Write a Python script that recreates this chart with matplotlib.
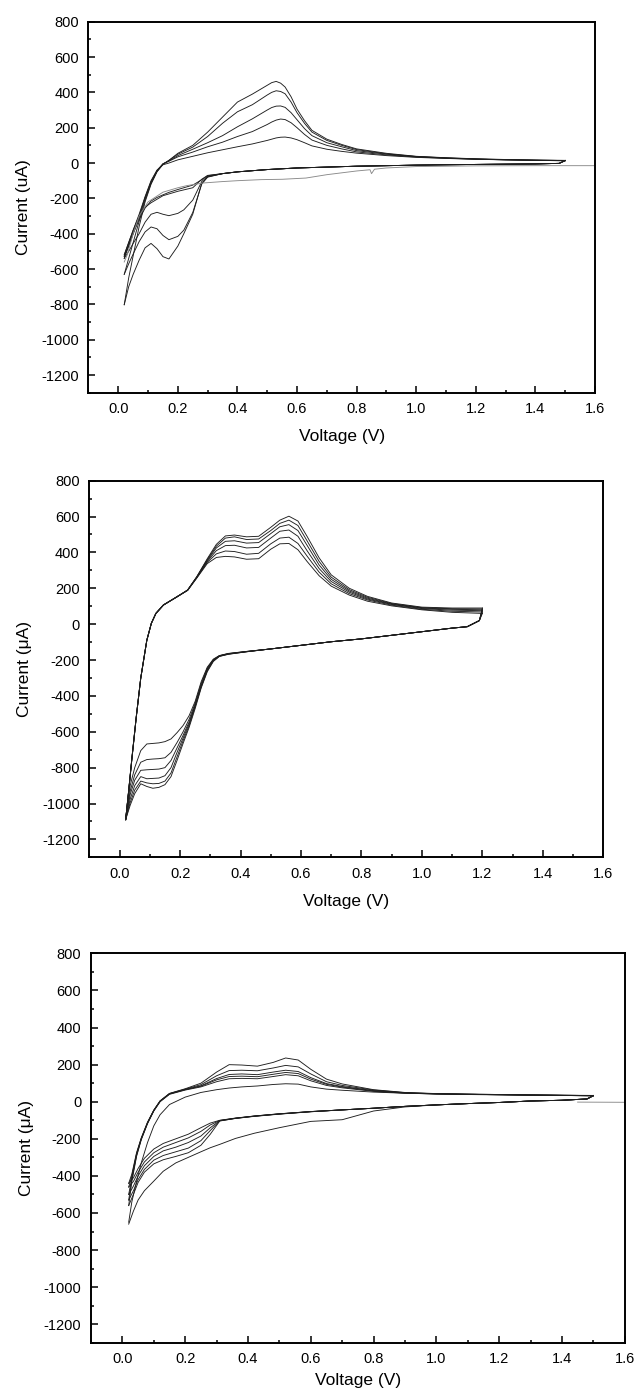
import matplotlib
matplotlib.use('Agg')
import matplotlib.pyplot as plt
from matplotlib.ticker import MultipleLocator, FormatStrFormatter

plt.rcParams['font.family'] = ['Liberation Sans', 'DejaVu Sans']
plt.rcParams['axes.unicode_minus'] = False

# ---------------- Panel 1 (sweep 0.02 - 1.5 V) ----------------
v_up_1 = [0.02, 0.035, 0.05, 0.07, 0.09, 0.11, 0.13, 0.15, 0.17, 0.20, 0.25, 0.30, 0.35, 0.40, 0.45,
          0.50, 0.515, 0.53, 0.545, 0.56, 0.58, 0.60, 0.625, 0.65, 0.70, 0.75, 0.80, 0.90, 1.00,
          1.10, 1.20, 1.30, 1.40, 1.50]
i_up_1 = [
    [-802, -650, -525, -360, -220, -120, -50, -8, 15, 55, 100, 175, 260, 345, 390,
     440, 455, 462, 452, 430, 375, 305, 240, 185, 135, 105, 80, 55, 38, 30, 24, 20, 17, 15],
    [-630, -540, -450, -330, -210, -115, -48, -6, 15, 50, 90, 150, 225, 290, 330,
     385, 400, 409, 405, 392, 345, 285, 225, 175, 128, 100, 76, 52, 37, 29, 23, 19, 16, 14],
    [-540, -470, -400, -310, -200, -110, -45, -5, 12, 42, 78, 115, 155, 205, 250,
     300, 314, 322, 323, 315, 285, 245, 195, 155, 115, 92, 70, 50, 36, 28, 22, 18, 16, 14],
    [-530, -460, -390, -300, -195, -105, -42, -4, 10, 35, 62, 92, 118, 150, 178,
     218, 232, 243, 249, 246, 228, 200, 162, 130, 100, 80, 63, 46, 34, 27, 22, 18, 15, 13],
    [-520, -450, -380, -290, -190, -100, -40, -10, 0, 18, 38, 58, 75, 92, 108,
     128, 135, 142, 146, 147, 142, 132, 115, 97, 78, 66, 56, 42, 32, 26, 21, 18, 15, 13],
]
v_down_1 = [1.50, 1.48, 1.40, 1.20, 1.00, 0.80, 0.60, 0.50, 0.40, 0.35, 0.30, 0.28,
            0.25, 0.22, 0.20, 0.17, 0.15, 0.13, 0.11, 0.09, 0.07, 0.05, 0.035, 0.02]
i_down_1 = [
    [15, -2, -5, -8, -12, -18, -28, -37, -50, -60, -80, -115,
     -290, -400, -470, -543, -530, -485, -455, -480, -550, -630, -700, -802],
    [14, -2, -5, -8, -12, -18, -28, -37, -50, -60, -78, -120,
     -280, -380, -415, -434, -410, -372, -362, -390, -445, -515, -570, -630],
    [14, -2, -5, -8, -12, -18, -28, -37, -50, -60, -76, -105,
     -210, -265, -285, -298, -290, -279, -290, -335, -400, -455, -500, -540],
    [13, -2, -5, -8, -12, -18, -28, -37, -50, -60, -72, -95,
     -125, -140, -150, -166, -180, -195, -215, -255, -320, -400, -470, -530],
    [13, -2, -5, -8, -12, -18, -28, -37, -50, -60, -70, -92,
     -140, -152, -160, -175, -185, -205, -225, -250, -300, -380, -450, -520],
]
# first discharge from open circuit (lighter trace)
v_first_1 = [1.60, 1.40, 1.20, 1.00, 0.90, 0.86, 0.85, 0.845, 0.80, 0.70, 0.63, 0.55,
             0.48, 0.40, 0.35, 0.285, 0.23, 0.20, 0.15, 0.10, 0.07, 0.05, 0.03, 0.02]
i_first_1 = [-15, -15, -16, -20, -28, -35, -60, -38, -45, -66, -85, -92,
             -94, -100, -105, -113, -128, -140, -165, -220, -300, -400, -520, -560]

# ---------------- Panel 2 (sweep 0.02 - 1.2 V) ----------------
v_up_2 = [0.02, 0.03, 0.04, 0.055, 0.07, 0.09, 0.105, 0.12, 0.145, 0.19, 0.225, 0.255, 0.29, 0.32,
          0.35, 0.38, 0.42, 0.46, 0.50, 0.53, 0.56, 0.59, 0.62, 0.66, 0.70, 0.76, 0.82, 0.90,
          1.00, 1.10, 1.20]
i_up_2 = [
    [-1090, -930, -760, -520, -300, -90, 5, 60, 107, 153, 190, 264, 365, 445,
     492, 497, 487, 490, 540, 580, 602, 575, 490, 370, 275, 200, 155, 118, 95, 90, 90],
    [-1090, -925, -755, -515, -298, -88, 6, 61, 108, 152, 191, 263, 360, 435,
     480, 487, 472, 475, 522, 562, 580, 550, 465, 350, 262, 192, 150, 115, 92, 86, 85],
    [-1090, -935, -765, -522, -302, -92, 4, 59, 106, 154, 189, 262, 355, 425,
     462, 465, 452, 455, 505, 543, 555, 522, 440, 330, 250, 185, 145, 112, 90, 83, 80],
    [-1090, -928, -758, -518, -299, -89, 5, 60, 107, 153, 190, 260, 350, 410,
     438, 440, 425, 428, 480, 518, 525, 490, 410, 310, 238, 178, 140, 110, 87, 78, 75],
    [-1090, -932, -762, -521, -301, -91, 4, 59, 106, 152, 189, 258, 345, 392,
     408, 405, 390, 395, 448, 480, 485, 450, 380, 290, 225, 170, 135, 106, 83, 72, 68],
    [-1090, -930, -760, -520, -300, -90, 5, 60, 107, 153, 188, 256, 338, 372,
     378, 375, 362, 365, 418, 448, 450, 415, 350, 270, 212, 162, 128, 102, 80, 66, 60],
]
v_down_2 = [1.20, 1.19, 1.15, 1.10, 1.00, 0.90, 0.80, 0.70, 0.60, 0.50, 0.42, 0.36, 0.33, 0.31,
            0.29, 0.27, 0.25, 0.23, 0.21, 0.19, 0.17, 0.15, 0.13, 0.11, 0.09, 0.07, 0.05, 0.035, 0.02]
i_down_2 = [
    [90, 20, -14, -22, -42, -62, -82, -98, -118, -138, -152, -163, -175, -195,
     -240, -320, -430, -510, -565, -605, -640, -655, -662, -665, -668, -705, -800, -900, -1090],
    [85, 20, -14, -22, -42, -62, -82, -98, -118, -138, -152, -164, -176, -198,
     -245, -330, -440, -530, -600, -660, -715, -745, -750, -752, -755, -770, -840, -930, -1090],
    [80, 20, -14, -22, -42, -62, -82, -98, -118, -138, -153, -165, -177, -200,
     -250, -340, -450, -545, -620, -690, -760, -800, -808, -810, -812, -815, -870, -950, -1090],
    [75, 20, -14, -22, -42, -62, -82, -98, -118, -138, -153, -166, -178, -202,
     -255, -345, -455, -555, -635, -715, -800, -845, -858, -860, -862, -850, -900, -975, -1090],
    [68, 20, -14, -22, -42, -62, -82, -98, -118, -138, -154, -167, -179, -205,
     -260, -350, -460, -565, -650, -740, -830, -875, -888, -890, -885, -875, -925, -995, -1090],
    [60, 20, -14, -22, -42, -62, -82, -98, -118, -138, -154, -168, -180, -208,
     -265, -355, -470, -575, -665, -760, -850, -895, -910, -915, -905, -890, -945, -1010, -1090],
]

# ---------------- Panel 3 (sweep 0.02 - 1.5 V) ----------------
v_up_3 = [0.02, 0.03, 0.045, 0.06, 0.08, 0.10, 0.12, 0.15, 0.20, 0.25, 0.30, 0.34, 0.38, 0.43,
          0.48, 0.52, 0.56, 0.60, 0.65, 0.70, 0.80, 0.90, 1.00, 1.10, 1.20, 1.30, 1.40, 1.50]
i_up_3 = [
    [-440, -390, -275, -195, -110, -45, 5, 45, 70, 100, 160, 200, 198, 192,
     212, 236, 225, 175, 122, 96, 65, 50, 44, 41, 39, 37, 35, 34],
    [-460, -400, -280, -198, -112, -46, 4, 44, 68, 92, 140, 168, 170, 167,
     182, 196, 188, 150, 108, 88, 63, 49, 43, 41, 39, 37, 35, 33],
    [-500, -410, -285, -200, -114, -47, 3, 43, 66, 86, 125, 147, 150, 146,
     160, 170, 163, 130, 98, 82, 60, 48, 43, 40, 38, 36, 35, 33],
    [-530, -420, -290, -202, -116, -48, 2, 42, 65, 84, 118, 136, 138, 135,
     148, 158, 152, 122, 94, 79, 58, 47, 42, 40, 38, 36, 34, 32],
    [-560, -430, -295, -205, -118, -50, 0, 40, 63, 80, 108, 124, 126, 124,
     136, 146, 140, 113, 88, 75, 56, 46, 42, 39, 37, 35, 34, 32],
    [-650, -540, -430, -330, -220, -130, -70, -15, 25, 50, 65, 74, 80, 85,
     93, 97, 95, 80, 68, 62, 52, 46, 42, 40, 38, 36, 34, 32],
]
v_down_3 = [1.50, 1.48, 1.40, 1.30, 1.20, 1.10, 1.00, 0.90, 0.80, 0.70, 0.60, 0.50, 0.42,
            0.36, 0.31, 0.28, 0.25, 0.21, 0.17, 0.13, 0.10, 0.07, 0.05, 0.035, 0.02]
i_down_3 = [
    [34, 15, 8, 4, -4, -10, -17, -25, -35, -44, -53, -65, -77,
     -88, -100, -115, -140, -175, -200, -225, -255, -305, -360, -410, -440],
    [33, 15, 8, 4, -4, -10, -17, -25, -35, -44, -53, -65, -77,
     -89, -101, -125, -160, -195, -220, -245, -275, -325, -380, -430, -460],
    [33, 15, 8, 4, -4, -10, -17, -25, -35, -44, -53, -66, -78,
     -89, -102, -140, -185, -220, -245, -265, -295, -345, -400, -455, -500],
    [32, 15, 8, 4, -4, -10, -17, -25, -35, -44, -54, -66, -78,
     -90, -103, -155, -210, -250, -270, -290, -315, -365, -420, -480, -530],
    [32, 15, 8, 4, -4, -10, -17, -25, -35, -44, -54, -67, -79,
     -90, -104, -175, -235, -275, -295, -313, -335, -380, -435, -500, -560],
    [32, 15, 8, 4, -4, -10, -17, -28, -50, -97, -106, -140, -170,
     -198, -230, -248, -270, -300, -330, -375, -428, -480, -530, -590, -660],
]
v_first_3 = [1.60, 1.45]
i_first_3 = [-3, -2]


def desenhar_painel(ax, v_up, i_up, v_down, i_down, ylabel, v_first=None, i_first=None):
    """Draws one cyclic voltammogram panel with the common axis style."""
    for cur in i_up:
        ax.plot(v_up, cur, color='#1e1e1e', lw=0.65)
    for cur in i_down:
        ax.plot(v_down, cur, color='#1e1e1e', lw=0.65)
    if v_first is not None:
        ax.plot(v_first, i_first, color='#8a8a8a', lw=0.65)

    ax.set_xlim(-0.1, 1.6)
    ax.set_ylim(-1300, 800)
    ax.xaxis.set_major_locator(MultipleLocator(0.2))
    ax.xaxis.set_minor_locator(MultipleLocator(0.1))
    ax.xaxis.set_major_formatter(FormatStrFormatter('%.1f'))
    ax.yaxis.set_major_locator(MultipleLocator(200))
    ax.yaxis.set_minor_locator(MultipleLocator(100))
    ax.yaxis.set_major_formatter(FormatStrFormatter('%d'))
    ax.tick_params(which='both', direction='in', top=False, right=False, width=1.1,
                   labelsize=10.5, pad=7)
    ax.tick_params(which='major', length=5)
    ax.tick_params(which='minor', length=2.5)
    for sp in ax.spines.values():
        sp.set_linewidth(1.4)

    ax.set_xlabel('Voltage (V)', fontsize=12.5, va='center')
    ax.set_ylabel(ylabel, fontsize=12.5, va='center')


fig = plt.figure(figsize=(6.37, 13.99), dpi=100)

ax1 = fig.add_axes([0.1389, 0.7193, 0.7951, 0.2652])
desenhar_painel(ax1, v_up_1, i_up_1, v_down_1, i_down_1, 'Current (uA)', v_first_1, i_first_1)
ax1.xaxis.set_label_coords(0.5, -0.119)
ax1.yaxis.set_label_coords(-0.129, 0.5)

ax2 = fig.add_axes([0.1403, 0.3872, 0.8068, 0.2692])
desenhar_painel(ax2, v_up_2, i_up_2, v_down_2, i_down_2, 'Current (\u03bcA)')
ax2.xaxis.set_label_coords(0.5, -0.118)
ax2.yaxis.set_label_coords(-0.127, 0.5)

ax3 = fig.add_axes([0.1429, 0.0402, 0.8378, 0.2783])
desenhar_painel(ax3, v_up_3, i_up_3, v_down_3, i_down_3, 'Current (\u03bcA)', v_first_3, i_first_3)
ax3.xaxis.set_label_coords(0.5, -0.098)
ax3.yaxis.set_label_coords(-0.121, 0.5)

fig.savefig('out.png', dpi=100)
